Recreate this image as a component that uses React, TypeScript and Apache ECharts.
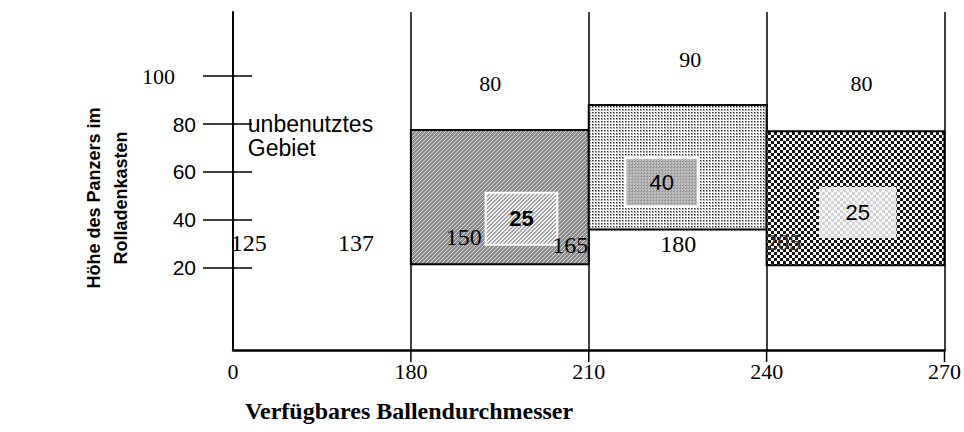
import React, { useEffect, useRef } from 'react';
import * as echarts from 'echarts';

// x axis break values (drawn equally spaced) and their tick labels
const xBreaks = [0, 180, 210, 240, 270];
const xTickLabels = ['0', '180', '210', '240', '270'];
const yTickValues = [20, 40, 60, 80, 100];

// large blocks: diameter range and height range
const blockXStart = [180, 210, 240];
const blockXEnd = [210, 240, 270];
const blockYBottom = [21.5, 36, 21];
const blockYTop = [77.5, 88, 77];

// inner boxes inside each block
const innerXStart = [192.6, 216.2, 249];
const innerXEnd = [204.7, 228.4, 261.7];
const innerYBottom = [29.6, 45.7, 32.8];
const innerYTop = [51.3, 65.8, 53.3];
const innerLabels = ['25', '40', '25'];
const innerBold = [true, false, false];

// labels above the blocks
const topLabels = ['80', '90', '80'];
const topLabelX = [193.4, 227.1, 256];
const topLabelY = [97.1, 106.9, 97.1];

// numbers along the lower row
const lowLabels = ['125', '137', '150', '165', '180', '205'];
const lowLabelX = [16, 124.5, 188.9, 206.9, 225.1, 242.8];
const lowLabelY = [30.3, 30.3, 32.8, 29.5, 29.9, 30.7];

// note text
const noteText = 'unbenutztes\nGebiet';
const noteX = 15;
const noteY = 75;

const yTitle = 'Höhe des Panzers im\nRolladenkasten';
const xTitle = 'Verfügbares Ballendurchmesser';

const SERIF = '"Liberation Serif", "Times New Roman", serif';
const SANS = '"Liberation Sans", Arial, sans-serif';

function toIdx(x: number): number {
  for (let i = 0; i < xBreaks.length - 1; i++) {
    if (x <= xBreaks[i + 1]) {
      return i + (x - xBreaks[i]) / (xBreaks[i + 1] - xBreaks[i]);
    }
  }
  return xBreaks.length - 1;
}

function makePattern(size: number, fn: (x: number, y: number) => number) {
  const c = document.createElement('canvas');
  c.width = size;
  c.height = size;
  const ctx = c.getContext('2d')!;
  const img = ctx.createImageData(size, size);
  for (let y = 0; y < size; y++) {
    for (let x = 0; x < size; x++) {
      const v = fn(x, y);
      const k = (y * size + x) * 4;
      img.data[k] = v;
      img.data[k + 1] = v;
      img.data[k + 2] = v;
      img.data[k + 3] = 255;
    }
  }
  ctx.putImageData(img, 0, 0);
  return { image: c, repeat: 'repeat' };
}

export default function App() {
  const ref = useRef<HTMLDivElement>(null);
  useEffect(() => {
    if (!ref.current) return;
    const chart = echarts.init(ref.current, undefined, { renderer: 'svg' });

    const outerPatterns = [
      makePattern(4, (x, y) => ((x + y) % 4 === 0 ? 215 : 140)),
      makePattern(3, (x, y) => (x === 1 && y === 1 ? 40 : x === 0 || y === 0 ? 255 : 170)),
      makePattern(6, (x, y) => ((Math.floor(x / 3) + Math.floor(y / 3)) % 2 ? 250 : 20)),
    ];
    const innerPatterns = [
      makePattern(4, (x, y) => ((x + y) % 4 <= 1 ? 245 : 165)),
      makePattern(3, (x, y) => (x === 1 && y === 1 ? 205 : x === 0 || y === 0 ? 185 : 150)),
      makePattern(6, (x, y) => ((Math.floor(x / 3) + Math.floor(y / 3)) % 2 ? 250 : 212)),
    ];

    const blockData = blockXStart.map((s, i) => [toIdx(s), toIdx(blockXEnd[i]), blockYBottom[i], blockYTop[i]]);
    const innerData = innerXStart.map((s, i) => [toIdx(s), toIdx(innerXEnd[i]), innerYBottom[i], innerYTop[i]]);
    const topData = topLabels.map((t, i) => [toIdx(topLabelX[i]), topLabelY[i]]);
    const lowData = lowLabels.map((t, i) => [toIdx(lowLabelX[i]), lowLabelY[i]]);

    const yMin = -14.36;
    const yMax = 126.8;
    const gridTop = 12;
    const gridBottom = 82;
    const tickLen = 12;

    chart.setOption({
      animation: false,
      backgroundColor: '#fff',
      grid: { left: 233, right: 17, top: gridTop, bottom: gridBottom },
      xAxis: [
        {
          type: 'value',
          min: 0,
          max: xBreaks.length - 1,
          interval: 1,
          axisLine: { show: true, onZero: false, lineStyle: { color: '#000', width: 2.5 } },
          axisTick: { show: false },
          splitLine: { show: true, lineStyle: { color: '#000', width: 1.5 } },
          axisLabel: {
            customValues: [0, 1, 2, 3, 4],
            formatter: (v: number) => xTickLabels[Math.round(v)],
            fontFamily: SERIF,
            fontSize: 22,
            color: '#000',
            margin: 10,
          },
        },
      ],
      yAxis: [
        {
          type: 'value',
          position: 'left',
          min: yMin,
          max: yMax,
          axisLine: { show: true, onZero: false, lineStyle: { color: '#000', width: 2 } },
          axisTick: { show: true, inside: false, length: 30, customValues: yTickValues, lineStyle: { color: '#000', width: 1.5 } },
          splitLine: { show: false },
          axisLabel: {
            customValues: yTickValues,
            margin: 37,
            formatter: (v: number) => (v === 100 ? `{t|${v}}` : `{a|${v}}`),
            rich: {
              t: { fontFamily: SERIF, fontSize: 22, color: '#000', padding: [0, 21, 0, 0] },
              a: { fontFamily: SANS, fontSize: 21, color: '#000' },
            },
          },
        },
        {
          type: 'value',
          position: 'left',
          min: yMin,
          max: yMax,
          axisLine: { show: false, onZero: false },
          axisTick: { show: true, inside: true, length: 19, customValues: yTickValues, lineStyle: { color: '#000', width: 1.5 } },
          splitLine: { show: false },
          axisLabel: { show: false },
        },
      ],
      series: [
        {
          type: 'custom',
          xAxisIndex: 0,
          yAxisIndex: 0,
          data: blockData,
          z: 3,
          renderItem: (params: any, api: any) => {
            const p0 = api.coord([api.value(0), api.value(3)]);
            const p1 = api.coord([api.value(1), api.value(2)]);
            return {
              type: 'rect',
              shape: { x: p0[0], y: p0[1], width: p1[0] - p0[0], height: p1[1] - p0[1] },
              style: { fill: outerPatterns[params.dataIndex], stroke: '#000', lineWidth: 2 },
            };
          },
        },
        {
          type: 'custom',
          xAxisIndex: 0,
          yAxisIndex: 0,
          data: innerData,
          z: 4,
          renderItem: (params: any, api: any) => {
            const i = params.dataIndex;
            const p0 = api.coord([api.value(0), api.value(3)]);
            const p1 = api.coord([api.value(1), api.value(2)]);
            return {
              type: 'group',
              children: [
                {
                  type: 'rect',
                  shape: { x: p0[0], y: p0[1], width: p1[0] - p0[0], height: p1[1] - p0[1] },
                  style: { fill: innerPatterns[i], stroke: i === 2 ? '#e6e6e6' : '#fff', lineWidth: 2 },
                },
                {
                  type: 'text',
                  x: (p0[0] + p1[0]) / 2,
                  y: (p0[1] + p1[1]) / 2,
                  style: {
                    text: innerLabels[i],
                    fill: '#000',
                    fontFamily: SANS,
                    fontSize: 22,
                    fontWeight: innerBold[i] ? 'bold' : 'normal',
                    align: 'center',
                    verticalAlign: 'middle',
                  },
                },
              ],
            };
          },
        },
        {
          type: 'custom',
          xAxisIndex: 0,
          yAxisIndex: 0,
          data: topData,
          z: 5,
          renderItem: (params: any, api: any) => {
            const p = api.coord([api.value(0), api.value(1)]);
            return {
              type: 'text',
              x: p[0],
              y: p[1],
              style: {
                text: topLabels[params.dataIndex],
                fill: '#000',
                fontFamily: SERIF,
                fontSize: 22,
                align: 'center',
                verticalAlign: 'middle',
              },
            };
          },
        },
        {
          type: 'custom',
          xAxisIndex: 0,
          yAxisIndex: 0,
          data: lowData,
          z: 5,
          renderItem: (params: any, api: any) => {
            const p = api.coord([api.value(0), api.value(1)]);
            const i = params.dataIndex;
            return {
              type: 'text',
              x: p[0],
              y: p[1],
              style: {
                text: lowLabels[i],
                fill: i === 5 ? '#333' : '#000',
                fontFamily: SERIF,
                fontSize: 24,
                align: 'center',
                verticalAlign: 'middle',
              },
            };
          },
        },
        {
          type: 'custom',
          xAxisIndex: 0,
          yAxisIndex: 0,
          data: [[toIdx(noteX), noteY]],
          z: 5,
          renderItem: (params: any, api: any) => {
            const p = api.coord([api.value(0), api.value(1)]);
            return {
              type: 'text',
              x: p[0],
              y: p[1],
              style: {
                text: noteText,
                fill: '#000',
                fontFamily: SANS,
                fontSize: 23,
                lineHeight: 24,
                align: 'left',
                verticalAlign: 'middle',
              },
            };
          },
        },
      ],
    });

    // short tick marks crossing below the x axis at each break except 0 (x from the chart's scale)
    const axisY = 432 - gridBottom;
    const tickGraphics = xBreaks.slice(1).map((b) => {
      const px = chart.convertToPixel({ xAxisIndex: 0 } as any, toIdx(b)) as number;
      return {
        type: 'rect',
        z: 100,
        shape: { x: px - 0.75, y: axisY, width: 1.5, height: tickLen },
        style: { fill: '#000' },
      };
    });

    chart.setOption({
      graphic: [
        {
          type: 'text',
          x: 107,
          y: 198,
          rotation: Math.PI / 2,
          style: {
            text: yTitle,
            font: `bold 18px ${SANS}`,
            fill: '#000',
            textAlign: 'center',
            textVerticalAlign: 'middle',
            lineHeight: 27,
          },
        },
        {
          type: 'text',
          x: 409,
          y: 411,
          style: {
            text: xTitle,
            font: `bold 24px ${SERIF}`,
            fill: '#000',
            textAlign: 'center',
            textVerticalAlign: 'middle',
          },
        },
        ...tickGraphics,
      ],
    });
    return () => chart.dispose();
  }, []);
  return <div ref={ref} style={{ position: 'absolute', left: 0, top: 0, width: 964, height: 432 }} />;
}
